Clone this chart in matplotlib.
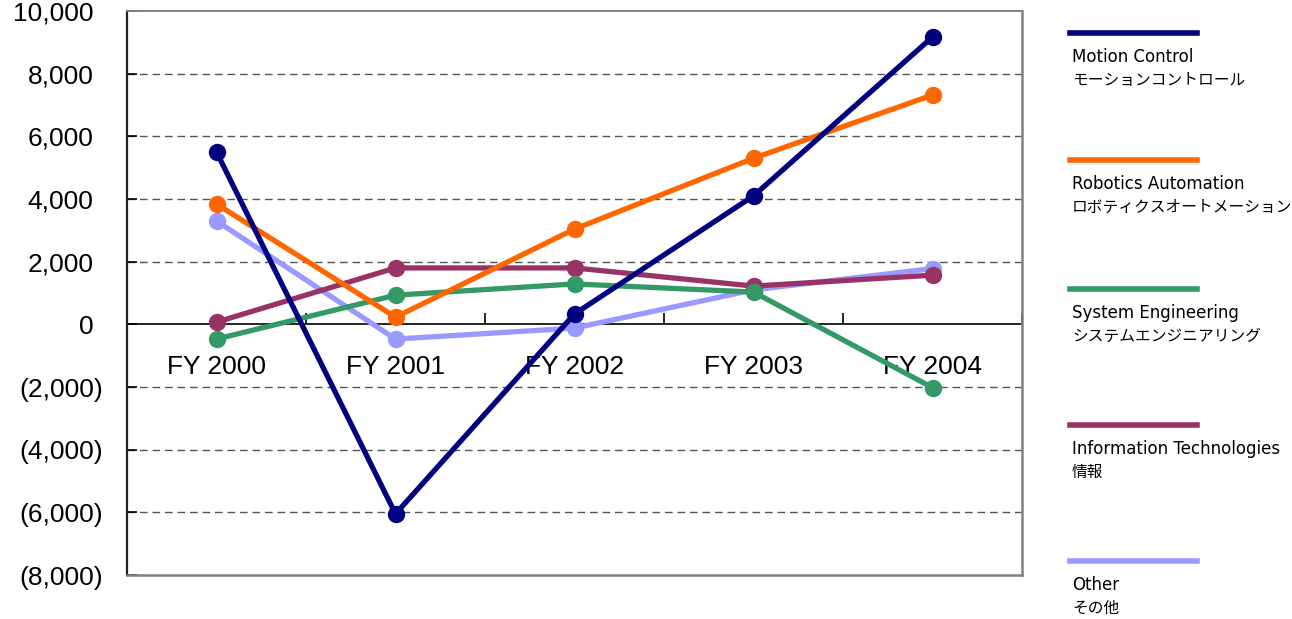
import matplotlib
matplotlib.use("Agg")
import matplotlib.pyplot as plt
import matplotlib.transforms as mtransforms
from matplotlib.lines import Line2D

# ---------------- data ----------------
years = ["FY 2000", "FY 2001", "FY 2002", "FY 2003", "FY 2004"]
series_en = ["Motion Control", "Robotics Automation", "System Engineering",
             "Information Technologies", "Other"]
series_ja = ["モーションコントロール", "ロボティクスオートメーション",
             "システムエンジニアリング", "情報", "その他"]
motion_control = [5500, -6050, 330, 4100, 9170]
robotics_automation = [3840, 230, 3040, 5300, 7320]
system_engineering = [-470, 930, 1290, 1030, -2020]
information_tech = [70, 1800, 1800, 1220, 1570]
other = [3300, -470, -120, 1100, 1780]
y_ticks = [10000, 8000, 6000, 4000, 2000, 0, -2000, -4000, -6000, -8000]

values = [motion_control, robotics_automation, system_engineering,
          information_tech, other]
colors = ["#000080", "#FF6600", "#339966", "#993366", "#9999FF"]
zorders = [10, 9, 8, 7, 6]

# ---------------- figure ----------------
W, H = 1292, 619
fig = plt.figure(figsize=(W / 100, H / 100), dpi=100)
ax = fig.add_axes([127 / W, (H - 575) / H, (1022 - 127) / W, (575 - 11) / H])

x = list(range(len(years)))
for vals, c, z in zip(values, colors, zorders):
    ax.plot(x, vals, color=c, lw=3.8, marker="o", ms=11.5, mec=c, mfc=c,
            zorder=z, solid_capstyle="round")

ymin, ymax = min(y_ticks), max(y_ticks)
ax.set_xlim(-0.5, len(years) - 0.5)
ax.set_ylim(ymin, ymax)

# gridlines (dashed), skipping zero
for t in y_ticks:
    if t not in (0, ymax, ymin):
        ax.axhline(t, color="#555555", lw=1.0, ls=(0, (5.5, 3.5)), zorder=1)

# spines
for s in ["top", "right", "bottom"]:
    ax.spines[s].set_color("#808080")
ax.spines["right"].set_linewidth(1.8)
ax.spines["top"].set_linewidth(1.4)
ax.spines["bottom"].set_linewidth(1.8)
ax.spines["left"].set_color("#222222")
ax.spines["left"].set_linewidth(1.6)

# y ticks
ax.set_yticks(y_ticks)
labels = [f"{v:,}" if v >= 0 else f"({-v:,})" for v in y_ticks]
ax.set_yticklabels(labels, fontsize=19, family="Liberation Sans")
ax.tick_params(axis="y", direction="in", length=7, width=1.2, pad=17,
               colors="black")
for v, lab in zip(y_ticks, ax.get_yticklabels()):
    if v >= 0:
        lab.set_transform(lab.get_transform() +
                          mtransforms.ScaledTranslation(-10 / 100, 0,
                                                        fig.dpi_scale_trans))

# bottom x axis hidden
ax.set_xticks([])

# category axis at zero
zero_frac = (0 - ymin) / (ymax - ymin)
sec = ax.secondary_xaxis(zero_frac)
sec.spines["bottom"].set_color("black")
sec.spines["bottom"].set_linewidth(1.2)
sec.set_xticks([i + 0.5 for i in range(len(years))])
sec.set_xticklabels([])
sec.tick_params(axis="x", which="major", direction="in", length=8, width=1.2)
sec.set_xticks(x, minor=True)
sec.set_xticklabels(years, minor=True, fontsize=19, family="Liberation Sans")
sec.tick_params(axis="x", which="minor", length=0, pad=22)

# ---------------- legend (manual) ----------------
leg_line_y = [33, 160, 289, 425, 561]
for en, ja, c, ly in zip(series_en, series_ja, colors, leg_line_y):
    fig.add_artist(Line2D([1070 / W, 1197 / W], [1 - ly / H, 1 - ly / H],
                          color=c, lw=4, transform=fig.transFigure))
    fig.text(1072 / W, 1 - (ly + 24) / H, en, fontsize=12,
             family=["DejaVu Sans", "Noto Sans CJK JP"], va="center",
             ha="left")
    fig.text(1072 / W, 1 - (ly + 47) / H, ja, fontsize=11.3,
             family=["Noto Sans CJK JP", "DejaVu Sans"], va="center",
             ha="left")

fig.savefig("out.png", dpi=100)
